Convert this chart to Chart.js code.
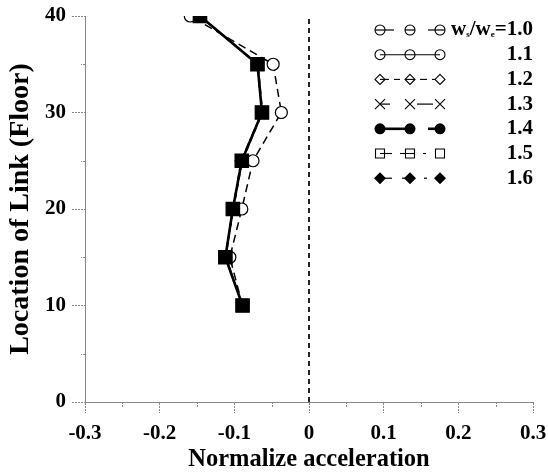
<!DOCTYPE html>
<html><head><meta charset="utf-8">
<style>html,body{margin:0;padding:0;background:#fff}</style>
<script src="https://cdn.jsdelivr.net/npm/chart.js@4/dist/chart.umd.min.js"></script>
</head><body>
<canvas id="c" width="548" height="474" style="width:548px;height:474px;display:block"></canvas>
<script>
// ---- data ----
const floors = [10, 15, 20, 25, 30, 35, 40];
const ratioLabels = ['1.0', '1.1', '1.2', '1.3', '1.4', '1.5', '1.6'];
const acc10 = [-0.089, -0.106, -0.090, -0.075, -0.037, -0.048, -0.159];
const acc11 = [-0.089, -0.112, -0.102, -0.090, -0.063, -0.069, -0.146];
const acc12 = [-0.089, -0.112, -0.101, -0.089, -0.062, -0.068, -0.147];
const acc13 = [-0.089, -0.111, -0.102, -0.090, -0.063, -0.069, -0.146];
const acc14 = [-0.089, -0.112, -0.102, -0.090, -0.063, -0.069, -0.146];
const acc15 = [-0.089, -0.112, -0.102, -0.090, -0.063, -0.069, -0.146];
const acc16 = [-0.089, -0.112, -0.102, -0.091, -0.063, -0.069, -0.146];
const xRange = [-0.3, 0.3];
const yRange = [0, 40];
const xTitle = 'Normalize acceleration';
const yTitle = 'Location of Link (Floor)';

const FONT = "'Liberation Serif', 'Times New Roman', serif";
const toPts = arr => arr.map((v, i) => ({x: v, y: floors[i]}));

const styles = [
  {dash: [8, 5], bw: 1.5, ps: 'circle', r: 6, bg: '#fff', order: 2},
  {dash: [], bw: 1.2, ps: 'circle', r: 5, bg: '#fff', order: 1},
  {dash: [6, 4], bw: 1.2, ps: 'rectRot', r: 5, bg: '#fff', order: 1},
  {dash: [], bw: 1.2, ps: 'crossRot', r: 5, bg: '#000', order: 1},
  {dash: [], bw: 2.6, ps: 'circle', r: 5, bg: '#000', order: 1},
  {dash: [8, 3, 2, 3], bw: 1.5, ps: 'rect', r: 9.5, bg: '#000', order: 0},
  {dash: [8, 3, 2, 3], bw: 1.5, ps: 'rectRot', r: 6, bg: '#000', order: 1}
];
const series = [acc10, acc11, acc12, acc13, acc14, acc15, acc16];

const datasets = series.map((s, i) => ({
  label: ratioLabels[i],
  data: toPts(s),
  showLine: true,
  borderColor: '#000',
  borderWidth: styles[i].bw,
  borderDash: styles[i].dash,
  pointStyle: styles[i].ps,
  pointRadius: styles[i].r,
  pointBackgroundColor: styles[i].bg,
  pointBorderColor: '#000',
  pointBorderWidth: 1.2,
  order: styles[i].order,
  tension: 0
}));
datasets.push({
  label: 'zero',
  data: [{x: 0, y: yRange[0]}, {x: 0, y: yRange[1]}],
  showLine: true, borderColor: '#000', borderWidth: 1.7, borderDash: [5, 4],
  pointRadius: 0, order: 3
});

// minor ticks + custom legend
const extras = {
  id: 'extras',
  afterDraw(chart) {
    const ctx = chart.ctx;
    const xs = chart.scales.x, ys = chart.scales.y;
    ctx.save();
    ctx.strokeStyle = '#888';
    ctx.lineWidth = 1;
    ctx.setLineDash([2, 1]);
    for (let v = -0.25; v < 0.3; v += 0.1) {
      const px = Math.round(xs.getPixelForValue(v)) + 0.5;
      ctx.beginPath(); ctx.moveTo(px, ys.bottom); ctx.lineTo(px, ys.bottom + 6); ctx.stroke();
    }
    for (let v = 5; v < 40; v += 10) {
      const py = Math.round(ys.getPixelForValue(v)) + 0.5;
      ctx.beginPath(); ctx.moveTo(xs.left, py); ctx.lineTo(xs.left - 4, py); ctx.stroke();
    }
    ctx.restore();

    // legend
    const mx = [380, 410, 440];
    const segs = [
      [[375, 394], [405, 415], [428, 445]],
      [[380, 440]],
      [[380, 389], [394, 400], [405, 415], [420, 427], [432, 435]],
      [[380, 390], [417, 433]],
      [[380, 410], [428, 440]],
      [[380, 392], [400, 415], [423, 426]],
      [[380, 392], [402, 410], [424, 427]]
    ];
    const lw = [1.2, 1.1, 1.1, 1.2, 2.6, 1.1, 1.2];
    for (let i = 0; i < ratioLabels.length; i++) {
      const y = 30 + i * 24.7;
      ctx.save();
      ctx.strokeStyle = '#000'; ctx.fillStyle = '#000';
      ctx.lineWidth = lw[i];
      segs[i].forEach(s => { ctx.beginPath(); ctx.moveTo(s[0], y); ctx.lineTo(s[1], y); ctx.stroke(); });
      ctx.lineWidth = 1.1;
      mx.forEach(x => {
        ctx.beginPath();
        if (i === 0 || i === 1) { ctx.arc(x, y, 5, 0, Math.PI * 2); ctx.stroke(); }
        else if (i === 2) { ctx.moveTo(x, y - 5); ctx.lineTo(x + 5, y); ctx.lineTo(x, y + 5); ctx.lineTo(x - 5, y); ctx.closePath(); ctx.stroke(); }
        else if (i === 3) { ctx.moveTo(x - 5, y - 5); ctx.lineTo(x + 5, y + 5); ctx.moveTo(x - 5, y + 5); ctx.lineTo(x + 5, y - 5); ctx.stroke(); }
        else if (i === 4) { ctx.arc(x, y, 5.5, 0, Math.PI * 2); ctx.fill(); }
        else if (i === 5) { ctx.rect(x - 4.5, y - 4.5, 9, 9); ctx.stroke(); }
        else { ctx.moveTo(x, y - 6); ctx.lineTo(x + 6, y); ctx.lineTo(x, y + 6); ctx.lineTo(x - 6, y); ctx.closePath(); ctx.fill(); }
      });
      // text
      ctx.textBaseline = 'middle';
      const big = 'bold 21px ' + FONT, small = 'bold 9px ' + FONT;
      let parts;
      if (i === 0) parts = [['w', big, 0], ['s', small, 5], ['/w', big, 0], ['e', small, 5], ['=' + ratioLabels[0], big, 0]];
      else parts = [[ratioLabels[i], big, 0]];
      let total = 0;
      parts.forEach(p => { ctx.font = p[1]; total += ctx.measureText(p[0]).width; });
      let x = 533 - total;
      parts.forEach(p => { ctx.font = p[1]; ctx.fillText(p[0], x, y + p[2]); x += ctx.measureText(p[0]).width; });
      ctx.restore();
    }
  }
};

new Chart(document.getElementById('c'), {
  type: 'scatter',
  data: {datasets},
  options: {
    responsive: false,
    animation: false,
    events: [],
    layout: {padding: {left: 0, right: 15, top: 16, bottom: 0}},
    plugins: {legend: {display: false}, tooltip: {enabled: false}},
    scales: {
      x: {
        type: 'linear', min: xRange[0], max: xRange[1],
        afterFit: s => { s.height = 72; s.paddingLeft = 0; s.paddingRight = 0; },
        ticks: {
          stepSize: 0.1, padding: 8, color: '#000',
          font: {family: FONT, size: 21, weight: 'bold'},
          callback: v => (Math.abs(v) < 1e-9 ? '0' : v.toFixed(1))
        },
        grid: {drawOnChartArea: false, drawTicks: true, tickLength: 11, tickColor: '#888', tickBorderDash: [2, 1]},
        border: {display: true, color: '#888', dash: [3, 1], width: 1},
        title: {display: true, text: xTitle, color: '#000', font: {family: FONT, size: 24.5, weight: 'bold'}, padding: {top: 0, bottom: 0}}
      },
      y: {
        type: 'linear', min: yRange[0], max: yRange[1],
        afterFit: s => { s.width = 85; s.paddingTop = 0; s.paddingBottom = 0; },
        ticks: {
          stepSize: 10, padding: 6, color: '#000',
          font: {family: FONT, size: 21, weight: 'bold'}
        },
        grid: {drawOnChartArea: false, drawTicks: true, tickLength: 13, tickColor: '#888', tickBorderDash: [2, 1]},
        border: {display: true, color: '#888', dash: [3, 1], width: 1},
        title: {display: true, text: yTitle, color: '#000', font: {family: FONT, size: 28, weight: 'bold'}, padding: {top: 4, bottom: 0}}
      }
    }
  },
  plugins: [extras]
});
</script>
</body></html>
